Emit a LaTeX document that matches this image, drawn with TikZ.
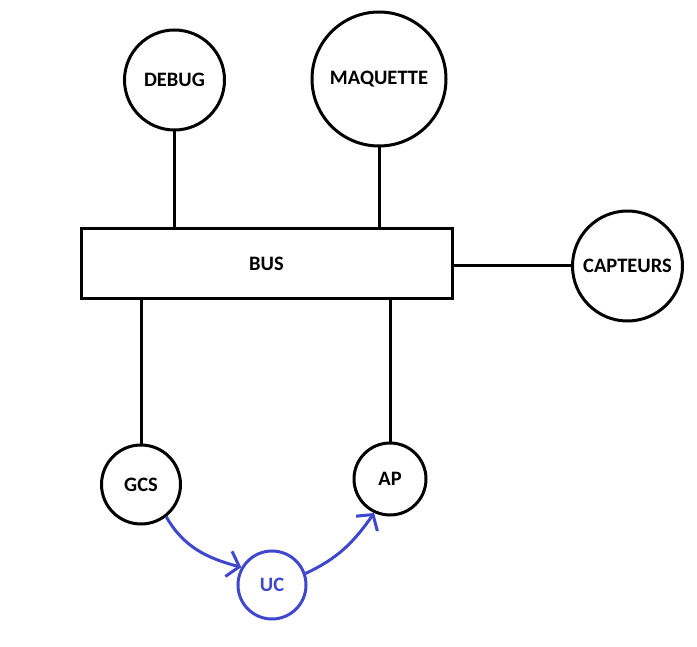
\documentclass[tikz,border=0pt]{standalone}
\usepackage{fontspec}
\setmainfont{Carlito}
\usetikzlibrary{positioning,arrows.meta}
\definecolor{PaintBlue}{HTML}{3F48CC}

\begin{document}
\begin{tikzpicture}[x=1pt,y=-1pt,line width=3pt,
    font=\fontsize{20.5}{24}\selectfont\bfseries,
    unit/.style={draw,circle,inner sep=0pt},
    link/.style={draw,line width=3pt},
    flow/.style={draw=PaintBlue,line width=3pt,
      -{Straight Barb[length=11pt,width=26pt,line width=3pt]}}]
    \useasboundingbox (0,0) rectangle (697,647);
    \node[draw,minimum width=371pt,minimum height=70pt,inner sep=0pt]
      (bus) at (266.5,264) {BUS};
    \node[unit,minimum size=100pt] (debug) at (174.5,80) {DEBUG};
    \node[unit,minimum size=134pt] (maquette) at (379,79) {MAQUETTE};
    \node[unit,minimum size=110pt] (capteurs) at (627.5,266) {CAPTEURS};
    \node[unit,minimum size=79pt] (gcs) at (141,484.5) {GCS};
    \node[unit,minimum size=72pt] (ap) at (390,479) {AP};
    \node[unit,minimum size=68pt,draw=PaintBlue,text=PaintBlue]
      (uc) at (272,585) {UC};
    % liaisons au bus
    \draw[link] (debug.south) -- (debug.south |- bus.north);
    \draw[link] (maquette.south) -- (maquette.south |- bus.north);
    \draw[link] (bus.east |- capteurs.west) -- (capteurs.west);
    \draw[link] (bus.south -| gcs.north) -- (gcs.north);
    \draw[link] (bus.south -| ap.north) -- (ap.north);
    % flux via UC
    \draw[flow] (gcs.-52) to[out=-60,in=165] (uc.150);
    \draw[flow] (uc.19) to[out=25,in=-125] (ap.-115);
\end{tikzpicture}
\end{document}
